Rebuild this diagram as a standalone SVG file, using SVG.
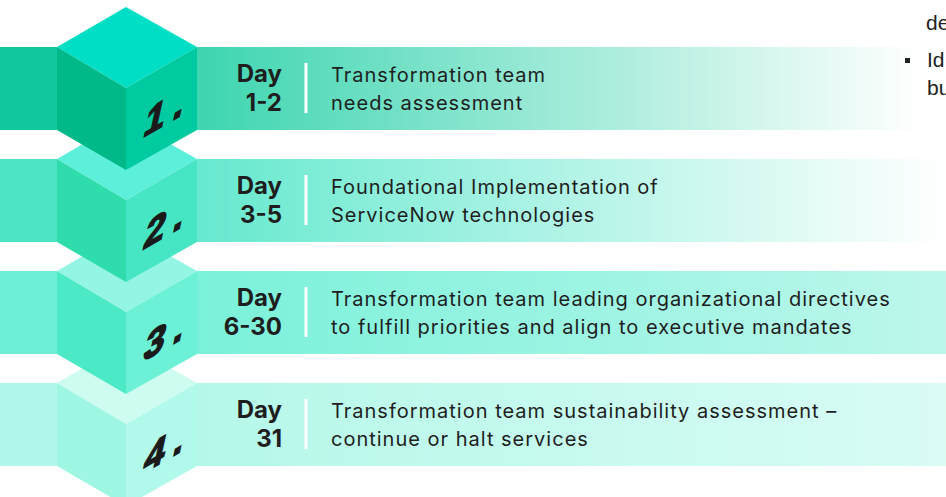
<svg xmlns="http://www.w3.org/2000/svg" width="946" height="497" viewBox="0 0 946 497">
<style>
.day{font-family:Inter,"Liberation Sans",sans-serif;font-weight:700;font-size:24px;fill:#1e1e1e;text-anchor:end}
.desc{font-family:Inter,"Liberation Sans",sans-serif;font-weight:400;font-size:20px;letter-spacing:1px;fill:#1e1e1e}
.num{font-family:"Liberation Sans",Arial,sans-serif;font-weight:700;font-size:37px;fill:#1a1a1a;stroke:#1a1a1a;stroke-width:1.6px;letter-spacing:9px}
.side{font-family:"Liberation Sans",Arial,sans-serif;font-size:21px;fill:#222}
.sep{stroke:#ffffff;stroke-width:3}
</style>
<defs>
<linearGradient id="g1" x1="197" x2="920" y1="0" y2="0" gradientUnits="userSpaceOnUse"><stop offset="0" stop-color="#3dd5b0"/><stop offset="1" stop-color="#ffffff"/></linearGradient>
<linearGradient id="g2" x1="197" x2="946" y1="0" y2="0" gradientUnits="userSpaceOnUse"><stop offset="0" stop-color="#66e9cf"/><stop offset="1" stop-color="#ffffff"/></linearGradient>
<linearGradient id="g3" x1="197" x2="946" y1="0" y2="0" gradientUnits="userSpaceOnUse"><stop offset="0" stop-color="#7af1da"/><stop offset="1" stop-color="#bdf7eb"/></linearGradient>
<linearGradient id="g4" x1="197" x2="946" y1="0" y2="0" gradientUnits="userSpaceOnUse"><stop offset="0" stop-color="#b5f8e9"/><stop offset="1" stop-color="#d9fcf5"/></linearGradient>
</defs>

<g id="step4" transform="translate(0,336)">
<rect x="0" y="47" width="57" height="83" fill="#b0f8e9"/>
<rect x="197" y="47" width="749" height="83" fill="url(#g4)"/>
<polygon points="57,47 126,7 197,47 126,88" fill="#cefcf0"/>
<polygon points="57,47 126,88 126,170 57,130" fill="#9ef6e3"/>
<polygon points="197,47 126,88 126,170 197,130" fill="#b1f9ea"/>
<text class="num" transform="translate(142,138) skewY(-30) skewX(-14)">4.</text>
<text class="day" x="282" y="82">Day</text>
<text class="day" x="282" y="111">31</text>
<line class="sep" x1="306" y1="63" x2="306" y2="113"/>
<text class="desc" x="331" y="82">Transformation team sustainability assessment –</text>
<text class="desc" x="331" y="110">continue or halt services</text>
</g>

<g id="step3" transform="translate(0,224)">
<rect x="0" y="47" width="57" height="83" fill="#6cefd6"/>
<rect x="197" y="47" width="749" height="83" fill="url(#g3)"/>
<polygon points="57,47 126,7 197,47 126,88" fill="#95f5e4"/>
<polygon points="57,47 126,88 126,170 57,130" fill="#4be9c6"/>
<polygon points="197,47 126,88 126,170 197,130" fill="#6cf1d7"/>
<text class="num" transform="translate(142,138) skewY(-30) skewX(-14)">3.</text>
<text class="day" x="282" y="82">Day</text>
<text class="day" x="282" y="111">6-30</text>
<line class="sep" x1="306" y1="63" x2="306" y2="113"/>
<text class="desc" x="331" y="82">Transformation team leading organizational directives</text>
<text class="desc" x="331" y="110">to fulfill priorities and align to executive mandates</text>
</g>

<g id="step2" transform="translate(0,112)">
<rect x="0" y="47" width="57" height="83" fill="#4ce4c2"/>
<rect x="197" y="47" width="749" height="83" fill="url(#g2)"/>
<polygon points="57,47 126,7 197,47 126,88" fill="#5cefd9"/>
<polygon points="57,47 126,88 126,170 57,130" fill="#2fdcab"/>
<polygon points="197,47 126,88 126,170 197,130" fill="#46e6c4"/>
<text class="num" transform="translate(142,138) skewY(-30) skewX(-14)">2.</text>
<text class="day" x="282" y="82">Day</text>
<text class="day" x="282" y="111">3-5</text>
<line class="sep" x1="306" y1="63" x2="306" y2="113"/>
<text class="desc" x="331" y="82">Foundational Implementation of</text>
<text class="desc" x="331" y="110">ServiceNow technologies</text>
</g>

<g id="step1">
<rect x="0" y="47" width="57" height="83" fill="#12c99d"/>
<rect x="197" y="47" width="749" height="83" fill="url(#g1)"/>
<polygon points="57,47 126,7 197,47 126,88" fill="#00dfc5"/>
<polygon points="57,47 126,88 126,170 57,130" fill="#00b988"/>
<polygon points="197,47 126,88 126,170 197,130" fill="#00cba0"/>
<text class="num" transform="translate(142,138) skewY(-30) skewX(-14)">1.</text>
<text class="day" x="282" y="82">Day</text>
<text class="day" x="282" y="111">1-2</text>
<line class="sep" x1="306" y1="63" x2="306" y2="113"/>
<text class="desc" x="331" y="82">Transformation team</text>
<text class="desc" x="331" y="110">needs assessment</text>
</g>

<g id="side-text">
<text class="side" x="926" y="30">de</text>
<rect x="905" y="58" width="5" height="5" fill="#222"/>
<text class="side" x="927" y="67">Id</text>
<text class="side" x="927" y="95">bu</text>
</g>
<g id="connectors"/>
</svg>
